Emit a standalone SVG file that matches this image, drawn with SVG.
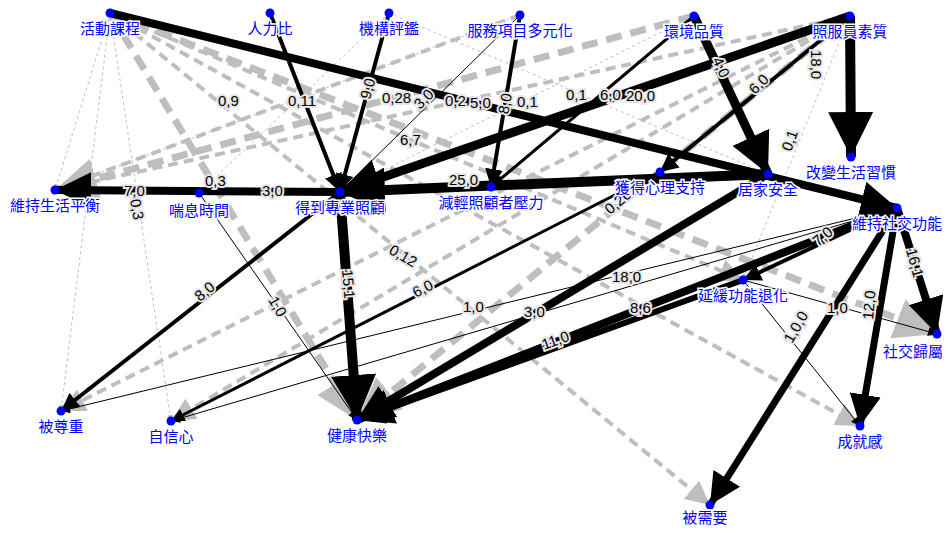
<svg xmlns="http://www.w3.org/2000/svg" width="950" height="533" viewBox="0 0 950 533">
<style>
.b{stroke:#000;fill:none}
.g{stroke:#bebebe;fill:none}
.gt{stroke:#bebebe;fill:none;stroke-width:1;stroke-dasharray:3,3}
.gm{stroke-width:4;stroke-dasharray:10,6}
.gw{stroke-width:7;stroke-dasharray:16,9}
.el{font-family:"Liberation Sans","DejaVu Sans",sans-serif;font-size:15px;fill:#000;paint-order:stroke;stroke:#e6e6e6;stroke-width:4px}
.nl{font-family:"Noto Sans CJK TC","Noto Sans CJK SC",sans-serif;font-size:15px;fill:#0000ff;text-anchor:middle;paint-order:stroke;stroke:#fff;stroke-width:3px}
circle{fill:#0000ff}
</style>
<defs>
<marker id="ab" viewBox="0 0 10 10" refX="10" refY="5" markerUnits="strokeWidth" markerWidth="4.5" markerHeight="4.5" orient="auto"><path d="M0,0L10,5L0,10z" fill="#000"/></marker>
<marker id="as" viewBox="0 0 10 10" refX="10" refY="5" markerUnits="userSpaceOnUse" markerWidth="10" markerHeight="9" orient="auto"><path d="M0,0L10,5L0,10z" fill="#000"/></marker>
<marker id="ag" viewBox="0 0 10 10" refX="10" refY="5" markerUnits="strokeWidth" markerWidth="6" markerHeight="6" orient="auto"><path d="M0,0L10,5L0,10z" fill="#bebebe"/></marker>
<marker id="ags" viewBox="0 0 10 10" refX="10" refY="5" markerUnits="userSpaceOnUse" markerWidth="7" markerHeight="6" orient="auto"><path d="M0,0L10,5L0,10z" fill="#bebebe"/></marker>
</defs>
<g id="connectors">
<line class="gt" x1="110" y1="13" x2="55" y2="190" marker-end="url(#ags)"/>
<line class="gt" x1="110" y1="13" x2="61" y2="411" marker-end="url(#ags)"/>
<line class="gt" x1="110" y1="13" x2="171" y2="421" marker-end="url(#ags)"/>
<line class="gt" x1="850" y1="16" x2="743" y2="280" marker-end="url(#ags)"/>
<line class="gt" x1="389" y1="13" x2="199" y2="193"/>
<line class="gt" x1="389" y1="13" x2="768" y2="174"/>
<line class="gt" x1="520" y1="15" x2="55" y2="190"/>
<line class="gt" x1="694" y1="16" x2="340" y2="192"/>
<line class="g gw" x1="110" y1="13" x2="357" y2="420" marker-end="url(#ag)"/>
<line class="g gm" x1="110" y1="13" x2="743" y2="280" marker-end="url(#ag)"/>
<line class="g gm" x1="110" y1="13" x2="860" y2="426" marker-end="url(#ag)"/>
<line class="g gm" x1="110" y1="13" x2="710" y2="505" marker-end="url(#ag)"/>
<line class="g gw" x1="110" y1="13" x2="937" y2="334" marker-end="url(#ag)"/>
<line class="g gw" x1="694" y1="16" x2="55" y2="190" marker-end="url(#ag)"/>
<line class="g gm" x1="850" y1="16" x2="55" y2="190" marker-end="url(#ag)"/>
<line class="g gm" x1="520" y1="15" x2="55" y2="190"/>
<line class="g gw" x1="850" y1="16" x2="357" y2="420" marker-end="url(#ag)"/>
<line class="g gm" x1="850" y1="16" x2="171" y2="421" marker-end="url(#ag)"/>
<line class="g gm" x1="850" y1="16" x2="61" y2="411" marker-end="url(#ag)"/>
<line class="b" stroke-width="8" x1="110" y1="13" x2="897" y2="208" marker-end="url(#ab)"/>
<line class="b" stroke-width="4" x1="270" y1="13" x2="340" y2="192" marker-end="url(#ab)"/>
<line class="b" stroke-width="4" x1="389" y1="13" x2="340" y2="192" marker-end="url(#ab)"/>
<line class="b" stroke-width="1" x1="520" y1="15" x2="340" y2="192" marker-end="url(#as)"/>
<line class="b" stroke-width="4" x1="520" y1="15" x2="491" y2="187" marker-end="url(#ab)"/>
<line class="b" stroke-width="3" x1="694" y1="16" x2="491" y2="187" marker-end="url(#ab)"/>
<line class="b" stroke-width="9" x1="694" y1="16" x2="768" y2="174" marker-end="url(#ab)"/>
<line class="b" stroke-width="9" x1="850" y1="16" x2="340" y2="192" marker-end="url(#ab)"/>
<line class="b" stroke-width="4" x1="850" y1="16" x2="660" y2="172" marker-end="url(#ab)"/>
<line class="b" stroke-width="10" x1="850" y1="16" x2="851" y2="157" marker-end="url(#ab)"/>
<line class="b" stroke-width="10" x1="768" y1="174" x2="340" y2="192" marker-end="url(#ab)"/>
<line class="b" stroke-width="8" x1="340" y1="192" x2="55" y2="190" marker-end="url(#ab)"/>
<line class="b" stroke-width="10" x1="340" y1="192" x2="357" y2="420" marker-end="url(#ab)"/>
<line class="b" stroke-width="4" x1="340" y1="192" x2="61" y2="411" marker-end="url(#ab)"/>
<line class="b" stroke-width="1" x1="199" y1="193" x2="357" y2="420" marker-end="url(#as)"/>
<line class="b" stroke-width="3" x1="660" y1="172" x2="171" y2="421" marker-end="url(#ab)"/>
<line class="b" stroke-width="8" x1="768" y1="174" x2="357" y2="420" marker-end="url(#ab)"/>
<line class="b" stroke-width="8" x1="897" y1="208" x2="357" y2="420" marker-end="url(#ab)"/>
<line class="b" stroke-width="6" x1="743" y1="280" x2="357" y2="420" marker-end="url(#ab)"/>
<line class="b" stroke-width="1" x1="897" y1="208" x2="61" y2="411" marker-end="url(#as)"/>
<line class="b" stroke-width="1" x1="897" y1="208" x2="171" y2="421" marker-end="url(#as)"/>
<line class="b" stroke-width="4" x1="897" y1="208" x2="743" y2="280" marker-end="url(#ab)"/>
<line class="b" stroke-width="8" x1="897" y1="208" x2="937" y2="334" marker-end="url(#ab)"/>
<line class="b" stroke-width="7" x1="897" y1="208" x2="860" y2="426" marker-end="url(#ab)"/>
<line class="b" stroke-width="7" x1="897" y1="208" x2="710" y2="505" marker-end="url(#ab)"/>
<line class="b" stroke-width="1" x1="743" y1="280" x2="860" y2="426" marker-end="url(#as)"/>
<line class="b" stroke-width="1" x1="743" y1="280" x2="937" y2="334" marker-end="url(#as)"/>
<text class="el" x="218" y="106">0,9</text>
<text class="el" x="288" y="106">0,11</text>
<text class="el" x="370" y="100" transform="rotate(-75 370 100)">9,0</text>
<text class="el" x="382" y="103">0,28</text>
<text class="el" x="420" y="110" transform="rotate(-45 420 110)">3,0</text>
<text class="el" x="445" y="106">0,2</text>
<text class="el" x="470" y="108">5,0</text>
<text class="el" x="500" y="105" transform="rotate(-80 510 105)">8,0</text>
<text class="el" x="517" y="107">0,1</text>
<text class="el" x="566" y="100">0,1</text>
<text class="el" x="600" y="100">6,0</text>
<text class="el" x="626" y="101">20,0</text>
<text class="el" x="712" y="60" transform="rotate(65 712 60)">4,0</text>
<text class="el" x="755" y="95" transform="rotate(-45 755 95)">6,0</text>
<text class="el" x="811" y="50" transform="rotate(90 811 50)">18,0</text>
<text class="el" x="791" y="152" transform="rotate(-70 791 152)">0,1</text>
<text class="el" x="400" y="145">6,7</text>
<text class="el" x="449" y="185">25,0</text>
<text class="el" x="124" y="196">7,0</text>
<text class="el" x="205" y="186">0,3</text>
<text class="el" x="262" y="196">3,0</text>
<text class="el" x="130" y="200" transform="rotate(80 130 200)">0,3</text>
<text class="el" x="342" y="270" transform="rotate(85 342 270)">15,1</text>
<text class="el" x="200" y="302" transform="rotate(-40 200 302)">8,0</text>
<text class="el" x="268" y="300" transform="rotate(60 268 300)">1,0</text>
<text class="el" x="388" y="253" transform="rotate(30 388 253)">0,12</text>
<text class="el" x="416" y="298" transform="rotate(-28 416 298)">6,0</text>
<text class="el" x="463" y="312">1,0</text>
<text class="el" x="524" y="317">3,0</text>
<text class="el" x="610" y="215" transform="rotate(-40 610 215)">0,26</text>
<text class="el" x="612" y="282">18,0</text>
<text class="el" x="630" y="313">8,6</text>
<text class="el" x="544" y="350" transform="rotate(-20 544 350)">11,0</text>
<text class="el" x="818" y="247" transform="rotate(-40 818 247)">7,0</text>
<text class="el" x="827" y="313">1,0</text>
<text class="el" x="873" y="320" transform="rotate(-85 873 320)">12,0</text>
<text class="el" x="906" y="250" transform="rotate(75 906 250)">16,1</text>
<text class="el" x="792" y="344" transform="rotate(-60 792 344)">1,0,0</text>
</g>
<g id="n1"><circle cx="110" cy="13" r="4.5"/><text class="nl" x="110" y="34">活動課程</text></g>
<g id="n2"><circle cx="270" cy="13" r="4.5"/><text class="nl" x="270" y="34">人力比</text></g>
<g id="n3"><circle cx="389" cy="13" r="4.5"/><text class="nl" x="389" y="34">機構評鑑</text></g>
<g id="n4"><circle cx="520" cy="15" r="4.5"/><text class="nl" x="520" y="36">服務項目多元化</text></g>
<g id="n5"><circle cx="694" cy="16" r="4.5"/><text class="nl" x="694" y="37">環境品質</text></g>
<g id="n6"><circle cx="850" cy="16" r="4.5"/><text class="nl" x="850" y="37">照服員素質</text></g>
<g id="n7"><circle cx="851" cy="157" r="4.5"/><text class="nl" x="851" y="178">改變生活習慣</text></g>
<g id="n8"><circle cx="55" cy="190" r="4.5"/><text class="nl" x="55" y="211">維持生活平衡</text></g>
<g id="n9"><circle cx="199" cy="193" r="4.5"/><text class="nl" x="199" y="216">喘息時間</text></g>
<g id="n10"><circle cx="340" cy="192" r="4.5"/><text class="nl" x="340" y="213">得到專業照顧</text></g>
<g id="n11"><circle cx="491" cy="187" r="4.5"/><text class="nl" x="491" y="208">減輕照顧者壓力</text></g>
<g id="n12"><circle cx="660" cy="172" r="4.5"/><text class="nl" x="660" y="193">獲得心理支持</text></g>
<g id="n13"><circle cx="768" cy="174" r="4.5"/><text class="nl" x="768" y="195">居家安全</text></g>
<g id="n14"><circle cx="897" cy="208" r="4.5"/><text class="nl" x="897" y="229">維持社交功能</text></g>
<g id="n15"><circle cx="743" cy="280" r="4.5"/><text class="nl" x="743" y="301">延緩功能退化</text></g>
<g id="n16"><circle cx="937" cy="334" r="4.5"/><text class="nl" x="913" y="357">社交歸屬</text></g>
<g id="n17"><circle cx="860" cy="426" r="4.5"/><text class="nl" x="860" y="447">成就感</text></g>
<g id="n18"><circle cx="61" cy="411" r="4.5"/><text class="nl" x="61" y="432">被尊重</text></g>
<g id="n19"><circle cx="171" cy="421" r="4.5"/><text class="nl" x="171" y="442">自信心</text></g>
<g id="n20"><circle cx="357" cy="420" r="4.5"/><text class="nl" x="357" y="441">健康快樂</text></g>
<g id="n21"><circle cx="710" cy="505" r="4.5"/><text class="nl" x="705" y="523">被需要</text></g>
</svg>
